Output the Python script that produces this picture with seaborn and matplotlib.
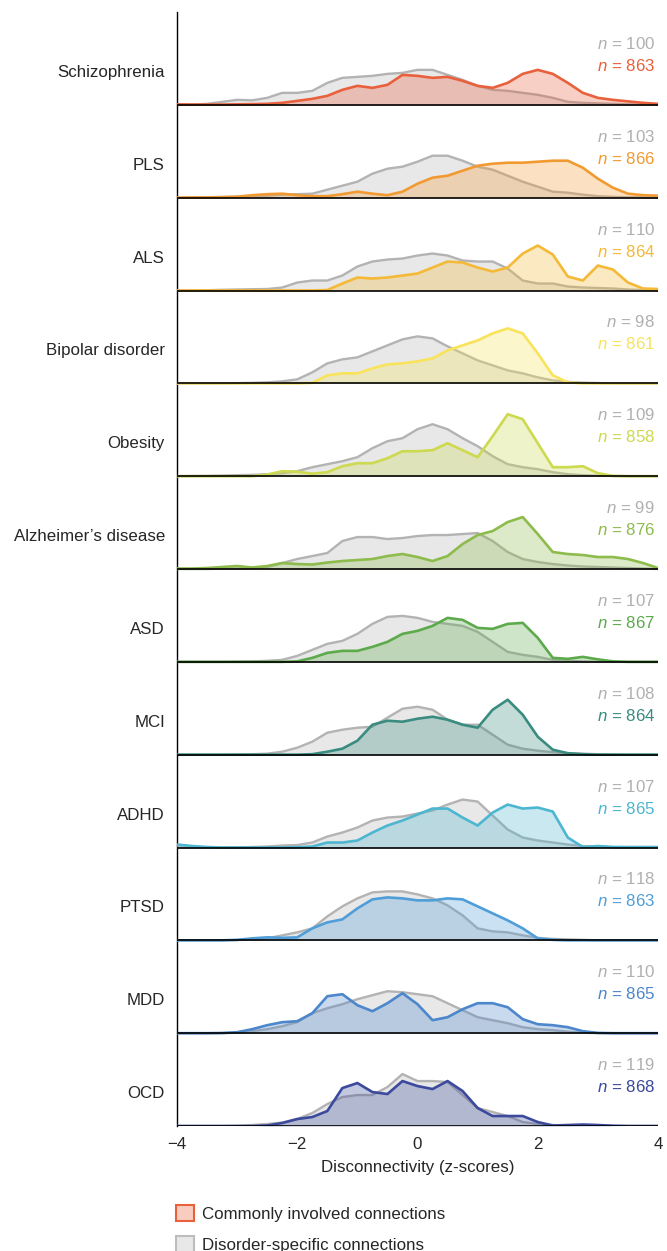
import numpy as np
import seaborn as sns
import matplotlib.pyplot as plt
from matplotlib.patches import Patch

# disorders, top to bottom
disorders = ["Schizophrenia", "PLS", "ALS", "Bipolar disorder", "Obesity",
             "Alzheimer\u2019s disease", "ASD", "MCI", "ADHD", "PTSD", "MDD", "OCD"]
colors = ["#e8603c", "#f29a32", "#f4b936", "#f8e35a", "#cdd94f", "#8dbb4c",
          "#5daa4c", "#3a8c80", "#4db6d0", "#4f9ed9", "#4c86cb", "#3b4a9c"]
n_specific = [100, 103, 110, 98, 109, 99, 107, 108, 107, 118, 110, 119]
n_common = [863, 866, 864, 861, 858, 876, 867, 864, 865, 863, 865, 868]

# z-score grid the density heights were read at
z = np.linspace(-4, 4, 33)

# density heights (arbitrary units)
specific = {
    "Schizophrenia": [0, 0.3, 1, 3, 5, 4.5, 7, 12, 12, 14, 22, 27, 28, 29, 31, 32, 35, 35, 30, 25, 19, 15, 14, 12, 10, 7, 3, 2, 1.5, 1, 0.5, 0.3, 0],
    "PLS": [0, 0.3, 0.5, 0.7, 1, 1.5, 2, 3, 3.5, 4, 8, 12, 16, 24, 29, 31, 36, 42, 42, 37, 31, 28, 22, 16, 11, 6, 5, 3, 1.5, 0.8, 0.5, 0.3, 0],
    "ALS": [0, 0, 0.3, 0.7, 1, 1.3, 1.5, 3, 8, 10, 10, 15, 24, 29, 31, 32, 35, 37, 35, 30, 29, 29, 22, 10, 7, 7, 4, 3, 2.5, 2, 1, 0.5, 0],
    "Bipolar disorder": [0, 0, 0, 0, 0.2, 0.5, 1, 2, 4, 11, 20, 24, 26, 32, 38, 44, 47, 45, 37, 30, 23, 18, 13, 10, 6, 3, 1.5, 0.7, 0.3, 0, 0, 0, 0],
    "Obesity": [0, 0.2, 0.3, 0.6, 1, 1.3, 2, 3, 5, 9, 12, 15, 19, 28, 35, 38, 47, 52, 47, 38, 30, 20, 12, 9, 7, 4, 2, 1, 0.5, 0.2, 0, 0, 0],
    "Alzheimer\u2019s disease": [0, 0, 0, 0.3, 0.5, 1.3, 2, 6, 10, 13, 16, 28, 32, 32, 30, 31, 33, 34, 34, 35, 36, 28, 17, 10, 7, 5, 3.5, 2.5, 2, 1.5, 1, 0.5, 0],
    "ASD": [0, 0, 0, 0, 0.2, 0.5, 1, 2, 6, 12, 18, 21, 28, 38, 45, 46, 44, 40, 38, 36, 30, 20, 10, 7, 5, 2, 1, 0.5, 0, 0, 0, 0, 0],
    "MCI": [0, 0, 0, 0, 0.2, 0.5, 1, 3, 7, 13, 22, 25, 27, 28, 37, 46, 48, 45, 35, 30, 30, 20, 10, 6, 4, 2.5, 1.5, 1, 0.5, 0.3, 0, 0, 0],
    "ADHD": [0, 0, 0, 0, 0.2, 0.5, 1, 2, 2.5, 5, 11, 15, 20, 27, 30, 31, 34, 37, 43, 48, 46, 32, 18, 10, 7, 5, 3, 1.5, 1, 0.5, 0, 0, 0],
    "PTSD": [0, 0, 0, 0, 0.3, 1, 2, 5, 8, 12, 24, 34, 42, 48, 49, 49, 46, 42, 35, 25, 12, 9, 8, 5, 2.5, 1.5, 1, 0.5, 0, 0, 0, 0, 0],
    "MDD": [0, 0, 0, 0, 0.5, 2, 4, 7, 11, 20, 25, 29, 34, 38, 42, 41, 39, 37, 30, 23, 16, 13, 10, 6, 4, 3, 1.5, 0.5, 0, 0, 0, 0, 0],
    "OCD": [0, 0, 0, 0, 0.3, 1, 2, 3.5, 7, 13, 22, 29, 31, 31, 39, 52, 45, 45, 44, 31, 18, 14, 10, 4, 2, 1, 0.5, 0, 0, 0, 0, 0, 0],
}
common = {
    "Schizophrenia": [0.5, 0.3, 0.3, 0.3, 0.5, 0.7, 1, 2, 4, 6, 9, 15, 19, 17, 20, 30, 29, 27, 28, 24, 19, 17, 22, 31, 35, 31, 22, 12, 7, 5, 3.5, 2, 1],
    "PLS": [0, 0.2, 0.3, 0.5, 1, 2.5, 3.5, 4, 2.5, 1.5, 1.5, 3.5, 6, 4, 2.5, 6, 14, 20, 22, 27, 32, 34, 35, 35, 36, 37, 37, 30, 19, 10, 4, 2.5, 2],
    "ALS": [0, 0, 0, 0, 0, 0, 0, 0, 0, 0, 0.5, 7, 13, 12, 13, 15, 17, 23, 29, 28, 23, 19, 23, 37, 45, 36, 14, 10, 25, 21, 8, 2, 1.5],
    "Bipolar disorder": [0, 0, 0, 0, 0, 0, 0, 0, 0, 0.5, 8, 10, 10, 15, 19, 20, 22, 25, 33, 38, 43, 50, 55, 50, 30, 8, 1, 0, 0, 0, 0, 0, 0],
    "Obesity": [0, 0, 0, 0, 0, 0, 1.5, 5, 4.5, 2.5, 4, 10, 13, 13, 18, 25, 25, 26, 33, 26, 19, 40, 62, 57, 33, 9, 9, 10, 3, 0.3, 0, 0, 0],
    "Alzheimer\u2019s disease": [0.5, 0.5, 1, 2, 3, 1.5, 3, 6, 5, 4.5, 6.5, 8, 9, 10, 13, 15, 12, 8, 13, 25, 34, 38, 47, 52, 35, 17, 15, 14, 12, 12, 10, 6, 1],
    "ASD": [0, 0, 0, 0, 0, 0, 0, 0, 0.5, 4, 9, 11, 11, 15, 20, 28, 31, 36, 44, 42, 34, 33, 38, 39, 24, 4, 3, 5, 2.5, 0.5, 0, 0, 0],
    "MCI": [0, 0, 0, 0, 0, 0, 0, 0, 0, 0.5, 3, 6, 14, 30, 34, 33, 36, 38, 35, 30, 27, 45, 55, 40, 18, 5, 1.5, 0.5, 0, 0, 0, 0, 0],
    "ADHD": [3, 1.5, 0.5, 0, 0, 0, 0, 0, 0.3, 1, 5, 5, 7, 15, 22, 27, 33, 39, 39, 30, 22, 35, 43, 39, 40, 36, 10, 0.5, 1.5, 0.5, 0.5, 0.5, 0.5],
    "PTSD": [0, 0, 0, 0, 0.5, 2, 3, 2.5, 3, 12, 18, 21, 32, 41, 43, 42, 40, 40, 42, 41, 34, 27, 20, 12, 2, 0.5, 0, 0, 0, 0, 0, 0, 0],
    "MDD": [0, 0, 0, 0.2, 1, 4, 8, 11, 12, 20, 37, 39, 28, 22, 30, 40, 29, 13, 16, 24, 30, 30, 26, 14, 9, 8, 6, 2, 0.3, 0, 0, 0, 0],
    "OCD": [0, 0, 0, 0, 0, 0, 0.5, 3, 7, 9, 15, 38, 43, 34, 32, 45, 40, 37, 45, 35, 18, 10, 10, 10, 4, 0.5, 1, 1.5, 1, 0.3, 0, 0, 0],
}

sns.set_style("white")
plt.rcParams['font.family'] = ['Liberation Sans', 'DejaVu Sans']
plt.rcParams['mathtext.fontset'] = 'custom'
plt.rcParams['mathtext.rm'] = 'Liberation Sans'
plt.rcParams['mathtext.it'] = 'Liberation Sans:italic'

fs = 12.2
row_h = 92.9  # height units per row
gray_line = "#b3b3b3"
gray_fill = "#e8e8e8"
gray_text = "#b0b0b0"

fig = plt.figure(figsize=(6.67, 12.51), dpi=100)
ax = fig.add_axes([0.2654, 0.0999, 0.7211, 0.8905])

nrows = len(disorders)
for i, name in enumerate(disorders):
    base = nrows - 1 - i
    zo = 10 + i * 5
    g = base + np.array(specific[name]) / row_h
    c = base + np.array(common[name]) / row_h

    ax.fill_between(z, base, g, color=gray_fill, lw=0, zorder=zo)
    sns.lineplot(x=z, y=g, color=gray_line, lw=1.7, estimator=None, ax=ax,
                 zorder=zo + 1, solid_joinstyle="round")
    ax.fill_between(z, base, c, color=colors[i], alpha=0.3, lw=0, zorder=zo + 2)
    sns.lineplot(x=z, y=c, color=colors[i], lw=1.9, estimator=None, ax=ax,
                 zorder=zo + 3, solid_joinstyle="round")
    ax.axhline(base, color="black", lw=1.2, zorder=zo + 4)

    ax.text(-4.2, base + 28 / row_h, name, ha="right", va="baseline", fontsize=fs)
    ax.text(3.95, base + 56 / row_h, "$n$ = %d" % n_specific[i], ha="right",
            va="baseline", fontsize=fs, color=gray_text)
    ax.text(3.95, base + 34 / row_h, "$n$ = %d" % n_common[i], ha="right",
            va="baseline", fontsize=fs, color=colors[i])

ax.set_xlim(-4, 4)
ax.set_ylim(0, 12)
ax.set_yticks([])
ax.set_xticks([-4, -2, 0, 2, 4])
ax.tick_params(axis="x", length=0, pad=8, labelsize=fs)
ax.set_xlabel("Disconnectivity (z-scores)", fontsize=fs, labelpad=6)
for side in ["top", "right"]:
    ax.spines[side].set_visible(False)
ax.spines["left"].set_color("black")
ax.spines["left"].set_linewidth(1.0)
ax.spines["bottom"].set_visible(False)
ax.patch.set_alpha(0)

handles = [
    Patch(facecolor="#f8cdbf", edgecolor=colors[0], lw=1.5),
    Patch(facecolor=gray_fill, edgecolor="#bdbdbd", lw=1.5),
]
fig.legend(handles, ["Commonly involved connections", "Disorder-specific connections"],
           loc="upper left", bbox_to_anchor=(0.2634, 1 - 1205 / 1251), frameon=False,
           borderpad=0, borderaxespad=0, handlelength=1.1, handleheight=1.1,
           handletextpad=0.45, labelspacing=0.85, fontsize=fs)

fig.savefig("out.png", dpi=100)
